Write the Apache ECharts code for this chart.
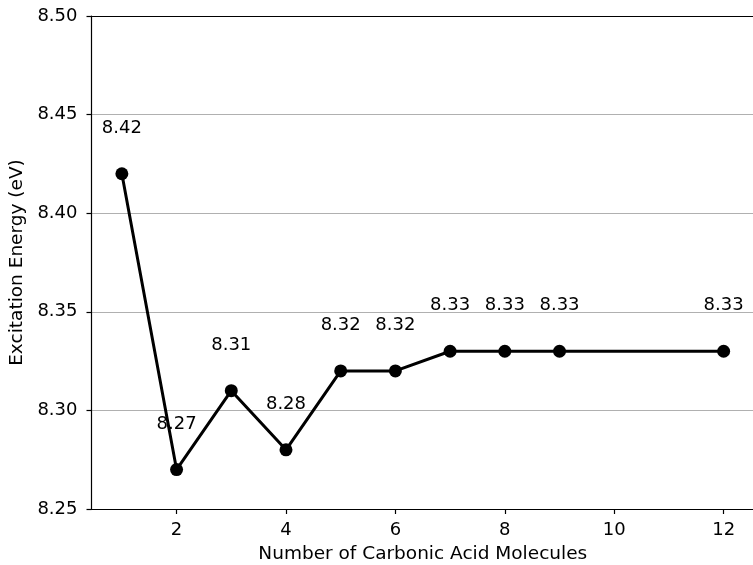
<!DOCTYPE html>
<html><head><meta charset="utf-8">
<script src="https://cdn.jsdelivr.net/npm/echarts@6/dist/echarts.min.js"></script>
<style>html,body{margin:0;padding:0;background:#fff}#c{width:753px;height:565px}</style>
</head><body><div id="c"></div>
<script>
const xValues = [1, 2, 3, 4, 5, 6, 7, 8, 9, 12];
const yValues = [8.42, 8.27, 8.31, 8.28, 8.32, 8.32, 8.33, 8.33, 8.33, 8.33];
const xTicks = [2, 4, 6, 8, 10, 12];
const xTitle = 'Number of Carbonic Acid Molecules';
const yTitle = 'Excitation Energy (eV)';

const pts = xValues.map((x, i) => [x, yValues[i]]);
const font = '"DejaVu Sans", sans-serif';
const fs = 18;
const chart = echarts.init(document.getElementById('c'), null, {renderer: 'canvas'});
chart.setOption({
  animation: false,
  textStyle: {fontFamily: font},
  grid: {left: 91.5, top: 16, width: 662.5, height: 493, containLabel: false, outerBoundsMode: 'none'},
  xAxis: [{
    type: 'value', min: 0.445, max: 12.555,
    name: xTitle, nameLocation: 'middle', nameGap: 36,
    nameTextStyle: {fontFamily: font, fontSize: 18.5, color: '#000'},
    axisLine: {show: true, onZero: false, lineStyle: {color: '#000', width: 1.2}},
    axisTick: {show: true, customValues: xTicks, length: 5, lineStyle: {color: '#000', width: 1.2}},
    axisLabel: {customValues: xTicks, fontFamily: font, fontSize: fs, color: '#000', margin: 12},
    splitLine: {show: false}
  }, {
    type: 'value', position: 'top', min: 0.445, max: 12.555,
    axisLine: {show: true, onZero: false, lineStyle: {color: '#000', width: 1.2}},
    axisTick: {show: false}, axisLabel: {show: false}, splitLine: {show: false}
  }],
  yAxis: {
    type: 'value', min: 8.25, max: 8.50, interval: 0.05,
    name: yTitle, nameLocation: 'middle', nameGap: 59,
    nameTextStyle: {fontFamily: font, fontSize: 18.5, color: '#000'},
    axisLine: {show: true, onZero: false, lineStyle: {color: '#000', width: 1.2}},
    axisTick: {show: true, length: 5, lineStyle: {color: '#000', width: 1.2}},
    axisLabel: {fontFamily: font, fontSize: fs, color: '#000', margin: 14, formatter: v => v.toFixed(2)},
    splitLine: {show: true, lineStyle: {color: '#b0b0b0', width: 1.2}}
  },
  series: [{
    type: 'scatter', data: pts, symbol: 'circle', symbolSize: 1, z: 1,
    itemStyle: {color: '#000', opacity: 1},
    label: {show: true, position: 'top', distance: 36, fontFamily: font, fontSize: fs, color: '#000', opacity: 1,
      formatter: p => p.value[1].toFixed(2)}
  }, {
    type: 'line', data: pts, z: 5,
    symbol: 'circle', symbolSize: 13,
    lineStyle: {color: '#000', width: 3},
    itemStyle: {color: '#000'},
    label: {show: false}
  }]
});
</script></body></html>
